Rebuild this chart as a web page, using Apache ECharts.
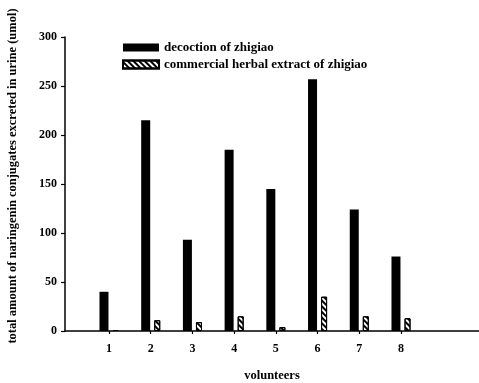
<!DOCTYPE html>
<html>
<head>
    <meta charset="utf-8">
    <title>naringenin conjugates</title>
    <script src="https://cdn.jsdelivr.net/npm/echarts@6/dist/echarts.min.js"></script>
    <style type="text/css">
        * { margin: 0; padding: 0; }
        body { background: #fff; }
        #main { width: 479px; height: 383px; }
    </style>
</head>
<body>
<div id="main"></div>
<script type="text/javascript">
    var volunteers = [1, 2, 3, 4, 5, 6, 7, 8];
    var decoction = [40, 215, 93, 185, 145, 257, 124, 76];
    var commercial = [1, 11, 9, 15, 4, 35, 15, 13];
    var yTicks = [0, 50, 100, 150, 200, 250, 300];
    var nameList = ['decoction of zhigiao', 'commercial herbal extract of zhigiao'];

    var serif = 'Liberation Serif';

    function pairs(vals) {
        var out = [];
        for (var i = 0; i < volunteers.length; i++) {
            out.push([volunteers[i], vals[i]]);
        }
        return out;
    }

    var myChart = echarts.init(document.getElementById('main'));
    var option = {
        animation: false,
        grid: {
            left: 65,
            right: 0,
            top: 37,
            bottom: 52,
            outerBoundsMode: 'none',
            containLabel: false
        },
        legend: {
            data: nameList,
            orient: 'vertical',
            left: 117,
            top: 36,
            icon: 'rect',
            itemWidth: 36,
            itemHeight: 8,
            itemGap: 4,
            selectedMode: false,
            textStyle: {
                fontFamily: serif,
                fontWeight: 'bold',
                fontSize: 13,
                color: '#000'
            }
        },
        xAxis: {
            type: 'value',
            min: -0.055,
            max: 9.87,
            name: 'volunteers',
            nameLocation: 'middle',
            nameGap: 38,
            nameTextStyle: {
                fontFamily: serif,
                fontWeight: 'bold',
                fontSize: 12.5,
                color: '#000'
            },
            splitLine: { show: false },
            axisLine: { onZero: false, lineStyle: { color: '#000', width: 1.5 } },
            axisTick: {
                customValues: volunteers,
                length: 3,
                lineStyle: { color: '#000', width: 1.2 }
            },
            axisLabel: {
                customValues: volunteers,
                margin: 12,
                fontFamily: serif,
                fontWeight: 'bold',
                fontSize: 12,
                color: '#000'
            }
        },
        yAxis: {
            type: 'value',
            min: 0,
            max: 300,
            interval: 50,
            name: 'total amount of naringenin conjugates excreted in urine (umol)',
            nameLocation: 'middle',
            nameRotate: 90,
            nameGap: 46,
            nameTextStyle: {
                fontFamily: serif,
                fontWeight: 'bold',
                fontSize: 12.5,
                color: '#000',
                padding: [0, 0, 0, 16]
            },
            splitLine: { show: false },
            axisLine: { show: true, onZero: false, lineStyle: { color: '#000', width: 1.5 } },
            axisTick: {
                show: true,
                customValues: yTicks,
                length: 4,
                lineStyle: { color: '#000', width: 1.2 }
            },
            axisLabel: {
                customValues: yTicks,
                margin: 8,
                fontFamily: serif,
                fontWeight: 'bold',
                fontSize: 12,
                color: '#000'
            }
        },
        series: [{
            name: nameList[0],
            type: 'bar',
            barWidth: 9,
            barGap: '45%',
            itemStyle: { color: '#000' },
            data: pairs(decoction)
        }, {
            name: nameList[1],
            type: 'bar',
            barWidth: 6,
            itemStyle: {
                color: '#fff',
                borderColor: '#000',
                borderWidth: 1,
                decal: {
                    symbol: 'rect',
                    symbolSize: 1,
                    color: '#000',
                    dashArrayX: [1, 0],
                    dashArrayY: [1.5, 2],
                    rotation: Math.PI / 4
                }
            },
            data: pairs(commercial)
        }]
    };
    myChart.setOption(option);
</script>
</body>
</html>
